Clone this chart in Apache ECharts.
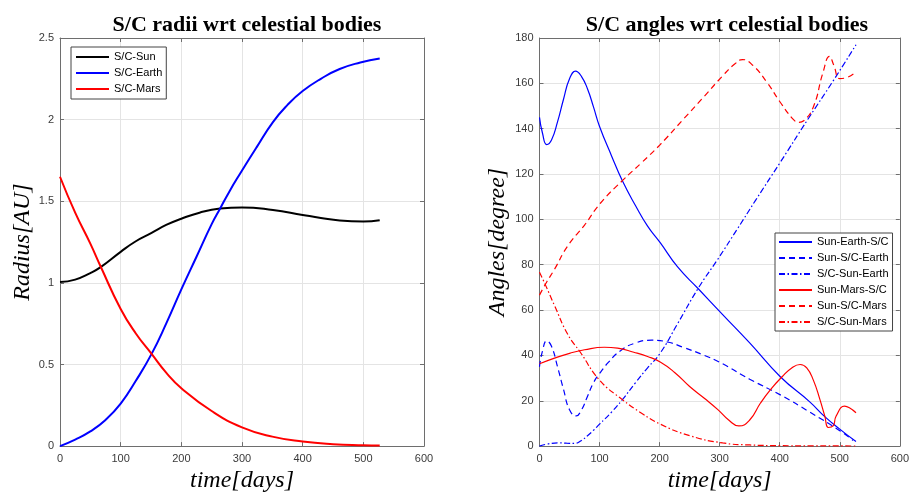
<!DOCTYPE html>
<html>
<head>
<meta charset="utf-8">
<script src="https://cdn.jsdelivr.net/npm/echarts@6/dist/echarts.min.js"></script>
<style>
  html, body { margin: 0; padding: 0; background: #ffffff; }
  #chart { width: 912px; height: 498px; }
</style>
</head>
<body>
<div id="chart"></div>
<script>
// ---- Spacecraft radii (AU) ----
const sunDays = [0, 25, 50, 67, 100, 125, 151, 175, 200, 230, 264, 300, 351, 400, 430, 461, 500, 527];
const sunRadius = [1.005, 1.02, 1.06, 1.096, 1.19, 1.255, 1.306, 1.355, 1.393, 1.43, 1.455, 1.462, 1.446, 1.416, 1.398, 1.382, 1.376, 1.384];

const earthDays = [0, 25, 50, 75, 100, 125, 151, 175, 200, 225, 250, 264, 280, 297, 324, 351, 375, 400, 430, 461, 495, 527];
const earthRadius = [0, 0.04, 0.09, 0.16, 0.26, 0.40, 0.565, 0.75, 0.96, 1.16, 1.36, 1.456, 1.565, 1.67, 1.83, 1.985, 2.09, 2.175, 2.25, 2.31, 2.35, 2.375];

const marsDays = [0, 25, 50, 67, 100, 125, 151, 175, 200, 250, 300, 350, 400, 450, 500, 527];
const marsRadius = [1.65, 1.43, 1.24, 1.10, 0.84, 0.69, 0.565, 0.45, 0.355, 0.215, 0.115, 0.058, 0.028, 0.012, 0.005, 0.003];

// ---- Spacecraft angles (degree) ----
const sunEarthScDays = [0, 5, 12, 20, 30, 40, 50, 60, 70, 80, 90, 100, 120, 138, 160, 180, 201, 230, 264, 305, 350, 401, 450, 475, 500, 527];
const sunEarthSc = [145, 138, 133, 135, 143, 153, 162, 165.4, 163, 157.5, 149.5, 141, 128, 117, 106, 97, 89.7, 79, 69.5, 58, 45.5, 30.6, 19.5, 13, 7.5, 2];

const sunScEarthDays = [0, 5, 12, 20, 30, 40, 50, 61, 70, 80, 90, 100, 115, 135, 160, 187, 215, 239, 270, 305, 350, 401, 450, 500, 522];
const sunScEarth = [35, 42, 46.4, 44, 35, 25, 16, 13.3, 16, 22, 28, 32, 37, 42.1, 45.5, 46.7, 45.8, 43.6, 40.5, 36.3, 29.5, 22.6, 15, 6.8, 2.5];

const scSunEarthDays = [0, 15, 31, 45, 58, 70, 80, 90, 100, 120, 138, 160, 180, 201, 230, 264, 297, 330, 360, 401, 448, 490, 527];
const scSunEarth = [0, 1, 1.4, 1.3, 1.2, 2.5, 4.6, 7, 9.7, 15, 20.5, 28, 34.5, 41, 54, 69.5, 82.5, 96, 108.5, 125.2, 144.6, 161.5, 177];

const sunMarsScDays = [0, 25, 50, 75, 108, 130, 157, 180, 201, 225, 250, 275, 297, 315, 332, 350, 368, 385, 404, 420, 434, 445, 456, 467, 475, 481, 489, 494, 508, 516, 527];
const sunMarsSc = [36.3, 38.8, 40.9, 42.5, 43.6, 43.2, 41.4, 39.5, 37.1, 32.5, 26.3, 21, 16.1, 11.5, 8.9, 11.5, 19, 25, 30.6, 34.5, 36, 34.5, 29.1, 20.5, 13.3, 8.2, 8.9, 13.3, 17.6, 16.9, 14.7];

const sunScMarsDays = [0, 12, 25, 47, 75, 101, 138, 170, 201, 240, 270, 305, 325, 338, 355, 379, 400, 423, 432, 440, 456, 472, 483, 490, 500, 511, 527];
const sunScMars = [66.6, 72.4, 78, 88.3, 97.5, 107, 117.1, 125, 133, 144.3, 153, 163.3, 168.5, 170.5, 168, 160.4, 152, 144, 142.8, 143.5, 149.6, 164.7, 171.9, 168, 162.1, 162.5, 165];

const scSunMarsDays = [0, 10, 25, 47, 68, 100, 138, 170, 201, 250, 305, 350, 400, 450, 527];
const scSunMars = [76.7, 71, 62, 49.3, 41.4, 29.1, 20.5, 14.5, 9.7, 4.6, 1.4, 0.5, 0.2, 0.1, 0.05];

const dayTicks = { min: 0, max: 600, interval: 100 };
const radiusTicks = { min: 0, max: 2.5, interval: 0.5 };
const angleTicks = { min: 0, max: 180, interval: 20 };

const pairs = (xs, ys) => xs.map((x, i) => [x, ys[i]]);

const axisColor = '#6e6e6e';
const labelColor = '#3a3a3a';
const gridColor = '#e4e4e4';
const tickFont = { fontFamily: 'Liberation Sans, Arial, sans-serif', fontSize: 11, color: labelColor };
const mathFont = { fontFamily: 'Liberation Serif, DejaVu Serif, serif', fontStyle: 'italic', fontSize: 24, color: '#000' };
const titleFont = { fontFamily: 'Liberation Serif, DejaVu Serif, serif', fontWeight: 'bold', fontSize: 22, color: '#000' };

function mainAxis(gridIndex, ticks, position, name, nameGap) {
  return {
    type: 'value', gridIndex, position, ...ticks,
    name, nameLocation: 'middle', nameGap, nameTextStyle: mathFont,
    axisLine: { show: true, onZero: false, lineStyle: { color: axisColor, width: 1 } },
    axisTick: { show: true, inside: true, length: 4, lineStyle: { color: axisColor } },
    axisLabel: { ...tickFont, margin: position === 'bottom' ? 7 : 6 },
    splitLine: { show: true, lineStyle: { color: gridColor, width: 1 } }
  };
}
function boxAxis(gridIndex, ticks, position) {
  return {
    type: 'value', gridIndex, position, ...ticks,
    axisLine: { show: true, onZero: false, lineStyle: { color: axisColor, width: 1 } },
    axisTick: { show: true, inside: true, length: 4, lineStyle: { color: axisColor } },
    axisLabel: { show: false },
    splitLine: { show: false }
  };
}

const solid = 'solid';
const dashed = [6, 4];
const dashDot = [6, 2.5, 1.5, 2.5];

function line(name, data, color, width, type, xi, yi) {
  return {
    name, type: 'line', data, xAxisIndex: xi, yAxisIndex: yi,
    smooth: 0.5, symbol: 'none', showSymbol: false,
    lineStyle: { color, width, type },
    itemStyle: { color },
    emphasis: { disabled: true }
  };
}

const legendBase = {
  orient: 'vertical',
  backgroundColor: '#ffffff',
  borderColor: '#444444',
  borderWidth: 1,
  borderRadius: 0,
  itemWidth: 33,
  itemHeight: 10,
  itemGap: 5,
  itemStyle: { opacity: 0 },
  textStyle: { fontFamily: 'Liberation Sans, Arial, sans-serif', fontSize: 11, color: '#000' },
  selectedMode: false
};

const chart = echarts.init(document.getElementById('chart'), null, { renderer: 'canvas' });
chart.setOption({
  animation: false,
  backgroundColor: '#ffffff',
  title: [
    { text: 'S/C radii wrt celestial bodies', left: 242, top: 9, textAlign: 'center', textStyle: titleFont },
    { text: 'S/C angles wrt celestial bodies', left: 722, top: 9, textAlign: 'center', textStyle: titleFont }
  ],
  grid: [
    { left: 60, top: 38, width: 364, height: 416, containLabel: false },
    { left: 539.5, top: 38, width: 365, height: 416, containLabel: false }
  ],
  xAxis: [
    mainAxis(0, dayTicks, 'bottom', 'time[days]', 19),
    boxAxis(0, dayTicks, 'top'),
    mainAxis(1, dayTicks, 'bottom', 'time[days]', 19),
    boxAxis(1, dayTicks, 'top')
  ],
  yAxis: [
    mainAxis(0, radiusTicks, 'left', 'Radius[AU]', 22),
    boxAxis(0, radiusTicks, 'right'),
    mainAxis(1, angleTicks, 'left', 'Angles[degree]', 30),
    boxAxis(1, angleTicks, 'right')
  ],
  legend: [
    { ...legendBase, left: 71, top: 47, padding: [4.5, 4, 4.5, 4],
      data: ['S/C-Sun', 'S/C-Earth', 'S/C-Mars'] },
    { ...legendBase, left: 775, top: 233, padding: [3.5, 4, 3.5, 3],
      data: ['Sun-Earth-S/C', 'Sun-S/C-Earth', 'S/C-Sun-Earth', 'Sun-Mars-S/C', 'Sun-S/C-Mars', 'S/C-Sun-Mars'] }
  ],
  series: [
    line('S/C-Sun', pairs(sunDays, sunRadius), '#000000', 2, solid, 0, 0),
    line('S/C-Earth', pairs(earthDays, earthRadius), '#0000ff', 2, solid, 0, 0),
    line('S/C-Mars', pairs(marsDays, marsRadius), '#ff0000', 2, solid, 0, 0),
    line('Sun-Earth-S/C', pairs(sunEarthScDays, sunEarthSc), '#0000ff', 1.2, solid, 2, 2),
    line('Sun-S/C-Earth', pairs(sunScEarthDays, sunScEarth), '#0000ff', 1.2, dashed, 2, 2),
    line('S/C-Sun-Earth', pairs(scSunEarthDays, scSunEarth), '#0000ff', 1.2, dashDot, 2, 2),
    line('Sun-Mars-S/C', pairs(sunMarsScDays, sunMarsSc), '#ff0000', 1.2, solid, 2, 2),
    line('Sun-S/C-Mars', pairs(sunScMarsDays, sunScMars), '#ff0000', 1.2, dashed, 2, 2),
    line('S/C-Sun-Mars', pairs(scSunMarsDays, scSunMars), '#ff0000', 1.2, dashDot, 2, 2)
  ]
});
</script>
</body>
</html>
